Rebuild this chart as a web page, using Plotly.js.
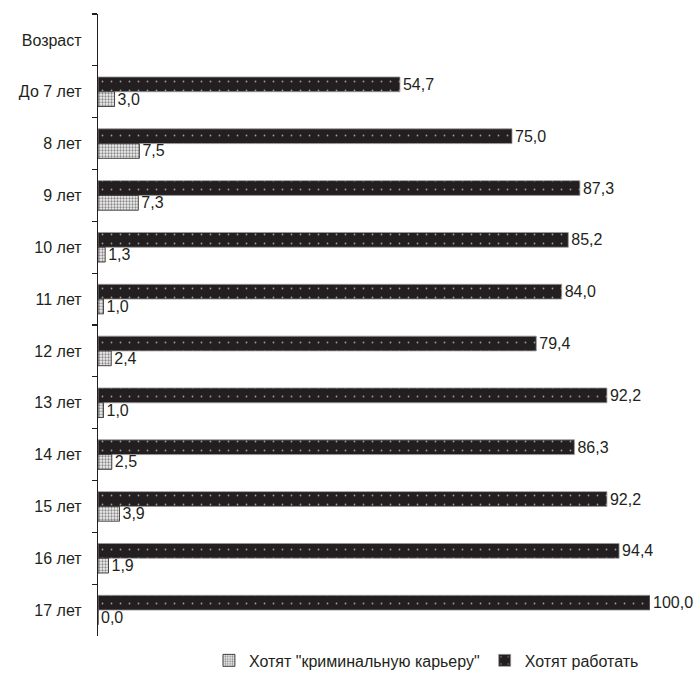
<!DOCTYPE html>
<html>
<head>
<meta charset="utf-8">
<script src="https://cdn.plot.ly/plotly-3.0.1.min.js"></script>
<style>html,body{margin:0;padding:0;background:#fff;}#chart{width:700px;height:689px;}</style>
</head>
<body>
<div id="chart"></div>
<script>
const categories = ["Возраст","До 7 лет","8 лет","9 лет","10 лет","11 лет","12 лет","13 лет","14 лет","15 лет","16 лет","17 лет"];
const ages = ["До 7 лет","8 лет","9 лет","10 лет","11 лет","12 лет","13 лет","14 лет","15 лет","16 лет","17 лет"];
const wantWork = [54.7,75.0,87.3,85.2,84.0,79.4,92.2,86.3,92.2,94.4,100.0];
const wantCrime = [3.0,7.5,7.3,1.3,1.0,2.4,1.0,2.5,3.9,1.9,0.0];
const nameWork = "Хотят работать";
const nameCrime = "Хотят \"криминальную карьеру\"";

const fmt = v => v.toFixed(1).replace('.', ',');
const font = {family: '"Liberation Sans", Arial, sans-serif', size: 16, color: "#231f20"};

const traces = [
  {
    type: 'bar', orientation: 'h', name: nameWork, legendrank: 2,
    y: ages, x: wantWork,
    text: wantWork.map(fmt), textposition: 'outside', cliponaxis: false,
    constraintext: 'none',
    textfont: font,
    marker: {color: '#231f20', line: {color: '#999', width: 0.8},
      pattern: {shape: '.', size: 9, solidity: 0.03, fgcolor: '#9a9a9a', bgcolor: '#231f20', fillmode: 'replace'}},
    hoverinfo: 'skip'
  },
  {
    type: 'bar', orientation: 'h', name: nameCrime, legendrank: 1,
    y: ages, x: wantCrime,
    text: wantCrime.map(fmt), textposition: 'outside', cliponaxis: false,
    constraintext: 'none',
    textfont: font,
    marker: {color: '#e8e8e8', line: {color: '#231f20', width: 0.8},
      pattern: {shape: '.', size: 3, solidity: 0.45, fgcolor: '#8a8a8a', bgcolor: '#f2f2f2', fillmode: 'replace'}},
    hoverinfo: 'skip'
  }
];

const layout = {
  width: 700, height: 689,
  margin: {l: 98, r: 50, t: 14, b: 42, pad: 0},
  paper_bgcolor: '#fff', plot_bgcolor: '#fff',
  font: font,
  barmode: 'group', bargap: 0.43, bargroupgap: 0,
  showlegend: true,
  legend: {orientation: 'h', x: 0.595, xanchor: 'center', y: -0.012, yanchor: 'top',
    font: font, itemwidth: 30, tracegroupgap: 0},
  xaxis: {range: [0, 100], visible: false, fixedrange: true},
  yaxis: {type: 'category', categoryorder: 'array', categoryarray: categories,
    range: [categories.length - 0.5, -0.5], autorange: false,
    showline: true, linecolor: '#231f20', linewidth: 1.2,
    ticks: 'outside', ticklen: 5, tickcolor: '#231f20', tickwidth: 1.2,
    tickson: 'boundaries', showgrid: false, zeroline: false,
    tickfont: font, ticklabelstandoff: 12}
};

Plotly.newPlot('chart', traces, layout, {displayModeBar: false, staticPlot: true});
</script>
</body>
</html>
